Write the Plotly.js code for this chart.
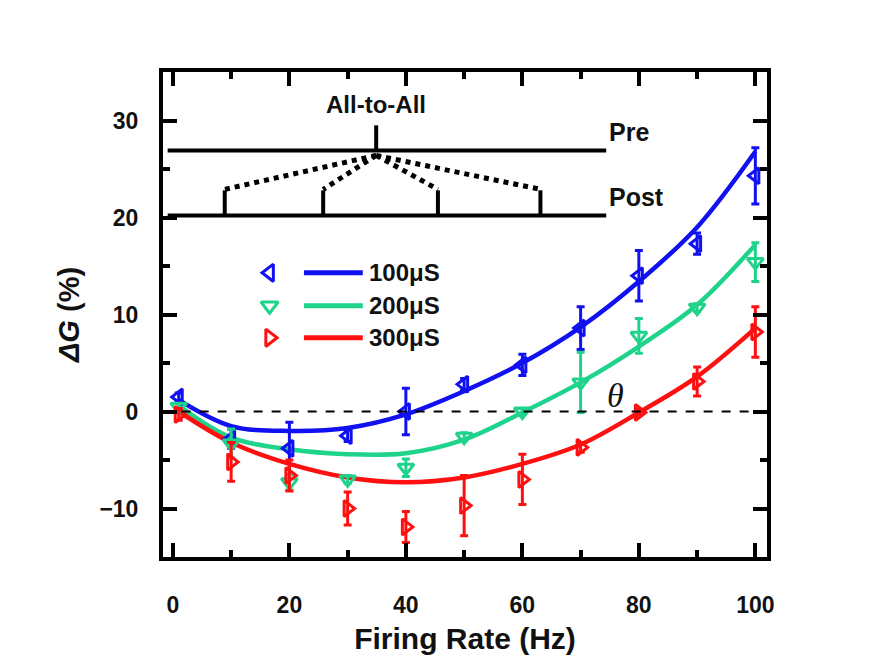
<!DOCTYPE html>
<html>
<head>
<meta charset="utf-8">
<script src="https://cdn.plot.ly/plotly-3.0.1.min.js"></script>
<style>
  html, body { margin: 0; padding: 0; background: #ffffff; }
  #chart { width: 875px; height: 666px; }
</style>
</head>
<body>
<div id="chart"></div>
<script>
// Firing rate (Hz) at which each conductance change was measured
const rate = [1, 10, 20, 30, 40, 50, 60, 70, 80, 90, 100];

// Measured conductance change ΔG (%) and error for each synaptic weight
const dg100 = [1.5, -2.8, -3.8, -2.5, 0.0, 2.8, 4.8, 8.6, 14.0, 17.3, 24.3];
const err100 = [0.4, 1.0, 2.7, 0.6, 2.4, 0.6, 1.1, 2.2, 2.6, 1.1, 2.9];

const dg200 = [0.5, -3.3, -7.3, -7.0, -5.8, -2.6, 0.0, 3.0, 7.8, 10.7, 15.4];
const err200 = [0.3, 1.5, 0.8, 0.4, 0.9, 0.4, 0.3, 3.1, 1.8, 0.4, 2.0];

const dg300 = [-0.3, -5.2, -6.6, -10.0, -11.9, -9.7, -7.0, -3.7, -0.1, 3.1, 8.2];
const err300 = [0.6, 2.0, 1.6, 1.7, 1.6, 3.1, 2.6, 0.5, 0.3, 1.5, 2.6];

// Fitted trend curves
const fitRate = [1, 10, 20, 30, 40, 50, 60, 70, 80, 90, 100];
const fit100 = [1.2, -1.5, -2.0, -1.7, -0.3, 2.1, 5.0, 8.7, 13.4, 19.0, 26.8];
const fit200 = [0.6, -2.7, -3.9, -4.4, -4.3, -2.9, -0.1, 3.0, 6.7, 11.0, 17.2];
const fit300 = [0.0, -3.2, -5.4, -6.8, -7.3, -6.8, -5.4, -3.4, -0.1, 3.6, 8.6];

const seriesNames = ['100μS', '200μS', '300μS'];

const BLUE = '#1010f0';
const GREEN = '#1fd38b';
const RED = '#ff1010';
const FONT = 'Liberation Sans, Arial, sans-serif';

const series = [
  { name: seriesNames[0], y: dg100, err: err100, fit: fit100, color: BLUE,  symbol: 'triangle-left-open' },
  { name: seriesNames[1], y: dg200, err: err200, fit: fit200, color: GREEN, symbol: 'triangle-down-open' },
  { name: seriesNames[2], y: dg300, err: err300, fit: fit300, color: RED,   symbol: 'triangle-right-open' }
];

const traces = [];
series.forEach(s => {
  traces.push({
    x: fitRate, y: s.fit, type: 'scatter', mode: 'lines',
    line: { color: s.color, width: 4.5, shape: 'spline', smoothing: 1 },
    hoverinfo: 'skip', showlegend: false
  });
});
series.forEach(s => {
  traces.push({
    x: rate, y: s.y, type: 'scatter', mode: 'markers', name: s.name,
    marker: { symbol: s.symbol, size: 14, color: s.color, line: { color: s.color, width: 3 } },
    error_y: { type: 'data', array: s.err, visible: true, color: s.color, thickness: 3, width: 4 },
    showlegend: false
  });
});

// Hand-drawn legend: marker, line sample and label per series
const legendRows = [14.3, 10.9, 7.6];
const legendShapes = [];
const legendNotes = [];
series.forEach((s, i) => {
  traces.push({
    x: [16.6], y: [legendRows[i]], type: 'scatter', mode: 'markers',
    marker: { symbol: s.symbol, size: 15, color: s.color, line: { color: s.color, width: 3 } },
    hoverinfo: 'skip', showlegend: false
  });
  legendShapes.push({
    type: 'line', xref: 'x', yref: 'y', x0: 22.5, x1: 32.6, y0: legendRows[i], y1: legendRows[i],
    line: { color: s.color, width: 5 }
  });
  legendNotes.push({
    xref: 'x', yref: 'y', x: 33.4, y: legendRows[i], xanchor: 'left', yanchor: 'middle',
    text: '<b>' + s.name + '</b>', showarrow: false,
    font: { family: FONT, size: 24, color: '#111' }
  });
});

// All-to-all spike pairing schematic
const K = '#000';
const spikeX = [8.9, 25.8, 45.5, 63.1];
const schematic = [
  { type: 'line', x0: -0.9, x1: 74.4, y0: 26.9, y1: 26.9, line: { color: K, width: 4 } },
  { type: 'line', x0: 34.9, x1: 34.9, y0: 26.9, y1: 29.5, line: { color: K, width: 4 } },
  { type: 'line', x0: -0.9, x1: 74.4, y0: 20.2, y1: 20.2, line: { color: K, width: 4 } }
];
spikeX.forEach(px => {
  schematic.push({ type: 'line', x0: px, x1: px, y0: 20.2, y1: 22.8, line: { color: K, width: 4 } });
  schematic.push({ type: 'line', x0: 34.9, x1: px, y0: 26.4, y1: 22.9, line: { color: K, width: 5, dash: 'dot' } });
});
schematic.forEach(s => { s.xref = 'x'; s.yref = 'y'; });

// Threshold θ
const threshold = {
  type: 'line', xref: 'x', yref: 'y', x0: 1.5, x1: 99, y0: 0, y1: 0,
  line: { color: K, width: 2, dash: 'dash' }
};

const notes = [
  { xref: 'x', yref: 'y', x: 34.9, y: 31.7, text: '<b>All-to-All</b>', showarrow: false,
    font: { family: FONT, size: 24, color: '#111' } },
  { xref: 'x', yref: 'y', x: 74.6, y: 28.8, text: '<b>Pre</b>', showarrow: false, xanchor: 'left',
    font: { family: FONT, size: 25, color: '#111' } },
  { xref: 'x', yref: 'y', x: 74.6, y: 22.1, text: '<b>Post</b>', showarrow: false, xanchor: 'left',
    font: { family: FONT, size: 25, color: '#111' } },
  { xref: 'x', yref: 'y', x: 76.0, y: 1.6, text: '<i>θ</i>', showarrow: false,
    font: { family: 'Liberation Serif, Times New Roman, serif', size: 34, color: '#111' } }
].concat(legendNotes);

const axisCommon = {
  showgrid: false, zeroline: false, showline: true, linecolor: K, linewidth: 4,
  mirror: 'ticks', ticks: 'inside', ticklen: 14, tickwidth: 4, tickcolor: K,
  tickfont: { family: FONT, size: 23, color: '#111', weight: 700 }
};

const layout = {
  width: 875, height: 666,
  margin: { l: 163, r: 108, t: 72, b: 109 },
  paper_bgcolor: '#ffffff', plot_bgcolor: '#ffffff',
  showlegend: false,
  xaxis: Object.assign({}, axisCommon, {
    range: [-1.7, 102], tick0: 0, dtick: 20, ticklabelstandoff: 24,
    minor: { dtick: 10, ticks: 'inside', ticklen: 7, tickwidth: 4, tickcolor: K },
    title: { text: '<b>Firing Rate (Hz)</b>', font: { family: FONT, size: 30, color: '#111' }, standoff: 12 }
  }),
  yaxis: Object.assign({}, axisCommon, {
    range: [-15, 35], tick0: 0, dtick: 10, ticklabelstandoff: 16,
    minor: { dtick: 5, ticks: 'inside', ticklen: 7, tickwidth: 4, tickcolor: K },
    title: { text: '<b><i>ΔG</i> (%)</b>', font: { family: FONT, size: 29, color: '#111' }, standoff: 12 }
  }),
  shapes: schematic.concat([threshold], legendShapes),
  annotations: notes
};

Plotly.newPlot('chart', traces, layout, { displayModeBar: false, staticPlot: true });
</script>
</body>
</html>
